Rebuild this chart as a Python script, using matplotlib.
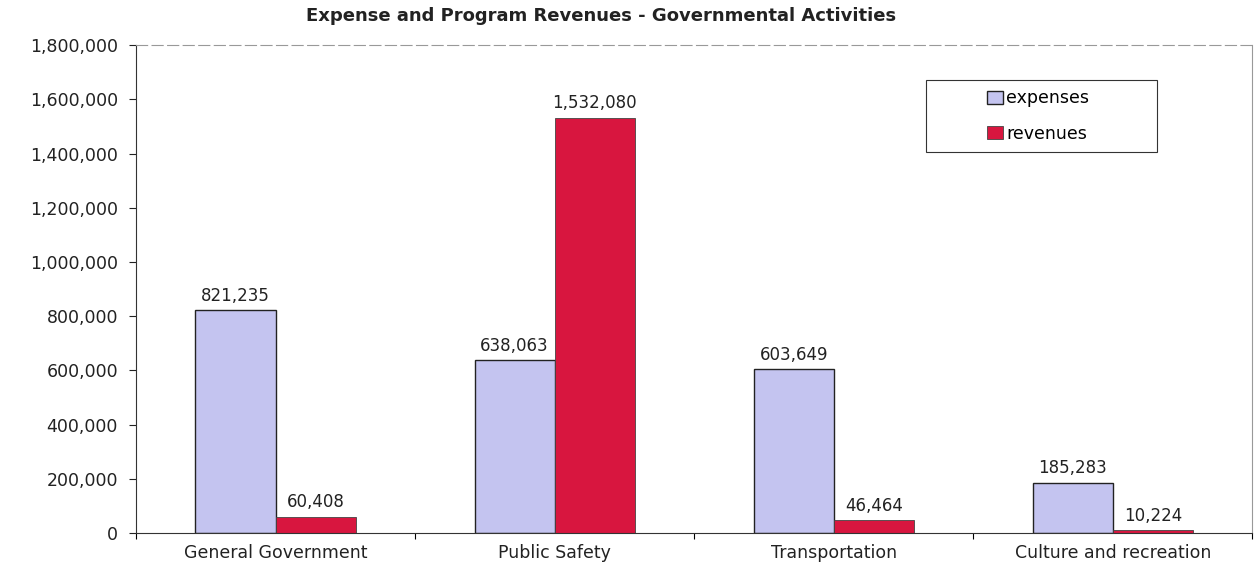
import numpy as np
import matplotlib.pyplot as plt
from matplotlib.patches import Rectangle
from matplotlib.ticker import FuncFormatter

plt.rcParams['font.family'] = ['DejaVu Sans']

# expense and program revenue figures per function
categories = ['General Government', 'Public Safety', 'Transportation', 'Culture and recreation']
expenses = [821235, 638063, 603649, 185283]
revenues = [60408, 1532080, 46464, 10224]

fig = plt.figure(figsize=(12.55, 5.64), dpi=100)
ax = fig.add_axes([0.1084, 0.055, 0.8896, 0.865])

x = np.arange(len(categories))
w = 0.287
b1 = ax.bar(x - w / 2, expenses, w, color='#c4c4f0', edgecolor='#222222', linewidth=1.0, label='expenses')
b2 = ax.bar(x + w / 2, revenues, w, color='#d8163f', edgecolor='#444444', linewidth=0.6, label='revenues')

fmt = lambda v: f'{v:,.0f}'
for bars, vals in ((b1, expenses), (b2, revenues)):
    for r, v in zip(bars, vals):
        ax.text(r.get_x() + r.get_width() / 2, v + 20000, fmt(v), ha='center', va='bottom',
                fontsize=12, color='#222222')

ax.set_xlim(-0.5, len(categories) - 0.5)
ax.set_ylim(0, 1800000)
ax.set_yticks(np.arange(0, 1800001, 200000))
ax.yaxis.set_major_formatter(FuncFormatter(lambda v, p: fmt(v)))
ax.tick_params(axis='y', labelsize=12.5, length=5, width=0.8, pad=8, colors='#222222')
ax.set_xticks(x)
ax.set_xticklabels(categories)
ax.set_xticks(np.arange(-0.5, len(categories)), minor=True)
ax.tick_params(axis='x', which='major', length=0, labelsize=12.5, pad=8, colors='#222222')
ax.tick_params(axis='x', which='minor', length=4, width=0.8)

ax.spines['top'].set_linestyle((0, (10, 4)))
ax.spines['top'].set_color('#999999')
ax.spines['top'].set_linewidth(0.8)
ax.spines['right'].set_color('#999999')
ax.spines['right'].set_linewidth(0.8)
ax.spines['left'].set_color('#333333')
ax.spines['bottom'].set_color('#333333')

fig.text(0.479, 0.972, 'Expense and Program Revenues - Governmental Activities', fontsize=13,
         fontweight='bold', color='#222222', ha='center', va='center')

# legend box with centred entries
ax.add_patch(Rectangle((0.7076, 0.781), 0.207, 0.147, transform=ax.transAxes,
                       facecolor='white', edgecolor='#333333', linewidth=0.8, zorder=4))
leg = ax.legend(loc='center', bbox_to_anchor=(0.808, 0.855), fontsize=12.5, frameon=False,
                labelspacing=1.0, handlelength=0.9, handleheight=0.8, handletextpad=0.2)
leg.set_zorder(5)

fig.savefig('out.png', dpi=100)
